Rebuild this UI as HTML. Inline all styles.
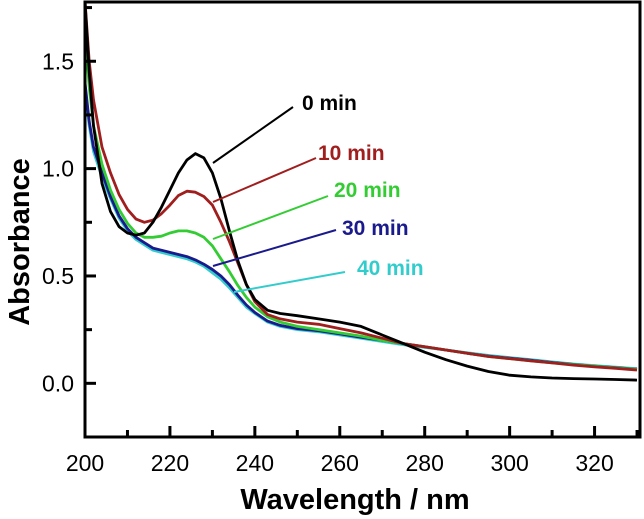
<!DOCTYPE html>
<html><head><meta charset="utf-8"><style>
html,body{margin:0;padding:0;background:#fff;}
svg{display:block;font-family:"Liberation Sans",sans-serif;}
</style></head><body>
<svg id="chart" width="644" height="519" viewBox="0 0 644 519" xmlns="http://www.w3.org/2000/svg">
<g id="series"></g>
<g id="axes"></g>
<rect x="85" y="2" width="555" height="435" fill="none" stroke="#000" stroke-width="3"/>
<text transform="translate(29,242) rotate(-90)" text-anchor="middle" font-size="29" font-weight="bold">Absorbance</text>
<text x="355" y="509" text-anchor="middle" font-size="29" font-weight="bold">Wavelength / nm</text>
</svg>
<script>
const xTicks = [200,220,240,260,280,300,320];
const yTicks = [0.0,0.5,1.0,1.5];
const wl = [200,201,202,204,206,208,210,212,214,216,218,220,222,224,226,228,230,232,234,236,238,240,243,246,250,255,260,265,270,275,280,285,290,295,300,305,310,315,320,325,330];
const s0 = [1.78,1.45,1.2,0.93,0.8,0.73,0.70,0.69,0.70,0.75,0.82,0.90,0.98,1.04,1.07,1.05,0.98,0.86,0.71,0.57,0.46,0.39,0.34,0.325,0.315,0.30,0.285,0.265,0.225,0.185,0.145,0.11,0.08,0.055,0.038,0.03,0.025,0.022,0.02,0.018,0.015];
const s10 = [1.78,1.5,1.32,1.1,0.98,0.88,0.81,0.765,0.75,0.76,0.79,0.83,0.875,0.895,0.89,0.87,0.83,0.75,0.66,0.56,0.46,0.38,0.32,0.30,0.285,0.275,0.255,0.235,0.21,0.185,0.17,0.155,0.14,0.125,0.115,0.105,0.095,0.085,0.077,0.07,0.062];
const s20 = [1.65,1.38,1.2,1.02,0.9,0.81,0.745,0.70,0.68,0.68,0.685,0.70,0.71,0.71,0.70,0.68,0.64,0.58,0.52,0.455,0.40,0.355,0.31,0.285,0.265,0.25,0.235,0.22,0.2,0.185,0.17,0.155,0.14,0.125,0.115,0.105,0.095,0.087,0.08,0.072,0.065];
const s30 = [1.40,1.22,1.1,0.98,0.87,0.78,0.72,0.68,0.655,0.63,0.62,0.61,0.60,0.59,0.575,0.555,0.53,0.50,0.46,0.41,0.365,0.33,0.29,0.27,0.255,0.245,0.23,0.215,0.2,0.185,0.17,0.155,0.14,0.127,0.117,0.107,0.097,0.088,0.08,0.073,0.066];
const s40 = [1.38,1.2,1.08,0.96,0.86,0.77,0.71,0.67,0.645,0.62,0.61,0.60,0.59,0.58,0.565,0.545,0.515,0.485,0.445,0.40,0.355,0.325,0.285,0.265,0.25,0.24,0.225,0.21,0.195,0.18,0.168,0.155,0.142,0.13,0.12,0.11,0.1,0.09,0.082,0.075,0.068];
const seriesNames = ["0 min","10 min","20 min","30 min","40 min"];
const seriesColors = ["#000000","#a01e1e","#33cc33","#1a1a8c","#33cccc"];
const NS="http://www.w3.org/2000/svg";
const X0=85,X1=640,Y0=437,Y1=2,XMIN=200,XMAX=330.7,YMIN=-0.25,YMAX=1.776;
function sx(v){return X0+(v-XMIN)/(XMAX-XMIN)*(X1-X0);}
function sy(v){return Y0-(v-YMIN)/(YMAX-YMIN)*(Y0-Y1);}
const axes=document.getElementById('axes'), ser=document.getElementById('series');
function mk(tag,attrs,parent){const e=document.createElementNS(NS,tag);for(const k in attrs)e.setAttribute(k,attrs[k]);parent.appendChild(e);return e;}
for(let v=210;v<=330;v+=10){
  const major = xTicks.includes(v);
  const t=mk('line',{x1:sx(v),x2:sx(v),y1:Y0,y2:Y0-(major?11:7),stroke:'#000','stroke-width':3},axes);
  
  
}
xTicks.forEach(v=>{
  const t=mk('text',{x:sx(v),y:471,'text-anchor':'middle','font-size':23},axes);
  t.textContent=v;
  
  
});
for(let v=-0.25;v<=1.76;v+=0.25){
  const major=Math.abs(v*2-Math.round(v*2))<1e-6;
  const t=mk('line',{x1:X0,x2:X0+(major?11:7),y1:sy(v),y2:sy(v),stroke:'#000','stroke-width':3},axes);
  
  
}
yTicks.forEach(v=>{
  const t=mk('text',{x:74,y:sy(v)+8,'text-anchor':'end','font-size':23},axes);
  t.textContent=v.toFixed(1);
  
  
});
const all=[s0,s10,s20,s30,s40];
[4,3,2,1,0].forEach(i=>{
  const d=wl.map((w,j)=>(j?'L':'M')+sx(w).toFixed(1)+','+sy(all[i][j]).toFixed(1)).join('');
  const p=mk('path',{d:d,fill:'none',stroke:seriesColors[i],'stroke-width':2.8,'stroke-linejoin':'round'},ser);
  
  
});
const labelPos=[[302,110],[318,160],[334,197],[342,235],[357,275]];
const leader=[[213,163,293,107],[213,202,316,158],[213,239,328,196],[213,266,336,230],[234,292,345,272]];
seriesNames.forEach((n,i)=>{
  const l=mk('line',{x1:leader[i][0],y1:leader[i][1],x2:leader[i][2],y2:leader[i][3],stroke:seriesColors[i],'stroke-width':2},ser);
  
  
  const t=mk('text',{x:labelPos[i][0],y:labelPos[i][1],'font-size':21,'font-weight':'bold',fill:seriesColors[i]},ser);
  t.textContent=n;
  
  
});
</script>
</body></html>
